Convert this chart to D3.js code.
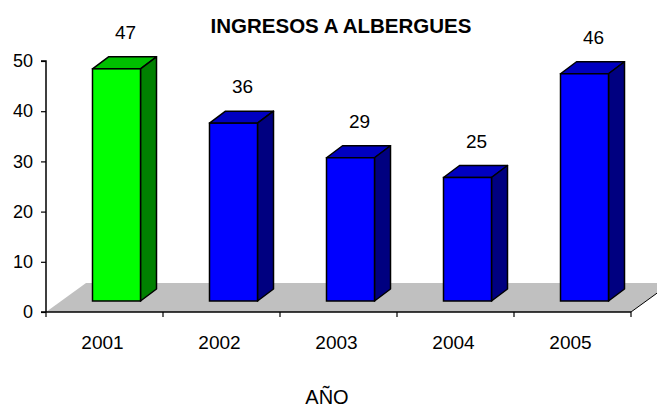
<!DOCTYPE html>
<html><head><meta charset="utf-8">
<script src="https://cdn.jsdelivr.net/npm/d3@7"></script>
<style>html,body{margin:0;padding:0;background:#fff;}svg{display:block;}</style>
</head><body>
<script>
const title = "INGRESOS A ALBERGUES";
const xTitle = "AÑO";
const categories = ["2001","2002","2003","2004","2005"];
const values = [47, 36, 29, 25, 46];
const yTicks = [0,10,20,30,40,50];
const highlight = ["2001"];

const W = 657, H = 407;
const plotL = 46, plotR = 631, plotT = 61, plotB = 312;
const floorDx = 40, floorDy = -29;      // floor depth
const frontDx = 15, frontDy = -11;      // bar front plane offset
const sideDx = 16, sideDy = -12;        // bar depth

const svg = d3.select("body").append("svg").attr("width", W).attr("height", H);
const font = "'Liberation Sans', Arial, sans-serif";

const x = d3.scaleBand().domain(categories).range([plotL, plotR]);
const y = d3.scaleLinear().domain([0, 50]).range([plotB, plotT]);
const yBar = d3.scaleLinear().domain([0, 50]).range([plotB + frontDy, plotB + frontDy - 247]);
const barW = 48;

// floor
svg.append("path")
  .attr("d", `M${plotL},${plotB}L${plotR},${plotB}L${plotR+floorDx},${plotB+floorDy}L${plotL+floorDx},${plotB+floorDy}Z`)
  .attr("fill", "#c0c0c0");
svg.append("line").attr("x1", plotR).attr("y1", plotB).attr("x2", plotR+floorDx).attr("y2", plotB+floorDy)
  .attr("stroke", "#000").attr("stroke-width", 1);

// axes
const yAxis = d3.axisLeft(y).tickValues(yTicks).tickSize(5).tickPadding(8);
const gy = svg.append("g").attr("transform", `translate(${plotL},0)`).call(yAxis);
gy.select(".domain").attr("stroke", "#000").attr("stroke-width", 1.5).attr("d", `M-5,${plotT}H0V${plotB}`);
gy.selectAll("line").attr("stroke", "#000").attr("stroke-width", 1.2);
gy.selectAll("text").attr("font-family", font).attr("font-size", 18).attr("fill", "#000");

svg.append("line").attr("x1", plotL - 5).attr("x2", plotR).attr("y1", plotB).attr("y2", plotB)
  .attr("stroke", "#000").attr("stroke-width", 1.5);
svg.selectAll(".xtick").data(categories.concat(["_end"])).enter().append("line")
  .attr("x1", (d, i) => plotL + i * x.bandwidth()).attr("x2", (d, i) => plotL + i * x.bandwidth())
  .attr("y1", plotB).attr("y2", plotB + 5).attr("stroke", "#000").attr("stroke-width", 1.2);

svg.selectAll(".xlab").data(categories).enter().append("text")
  .attr("x", d => x(d) + x.bandwidth() / 2 - 2).attr("y", 349)
  .attr("text-anchor", "middle").attr("font-family", font).attr("font-size", 19).text(d => d);

// bars
const data = categories.map((c, i) => ({c, v: values[i]}));
const g = svg.append("g");
data.forEach(d => {
  const hi = highlight.includes(d.c);
  const cf = hi ? "#00ff00" : "#0000ff";
  const cs = hi ? "#008000" : "#000080";
  const ct = hi ? "#00c000" : "#0000c0";
  const x0 = x(d.c) + (x.bandwidth() - barW) / 2 - 3 + frontDx;
  const x1 = x0 + barW;
  const yb = yBar(0), yt = yBar(d.v);
  g.append("path").attr("d", `M${x0},${yt}L${x1},${yt}L${x1+sideDx},${yt+sideDy}L${x0+sideDx},${yt+sideDy}Z`)
    .attr("fill", ct).attr("stroke", "#000").attr("stroke-width", 1.5).attr("stroke-linejoin", "round");
  g.append("path").attr("d", `M${x1},${yt}L${x1+sideDx},${yt+sideDy}L${x1+sideDx},${yb+sideDy}L${x1},${yb}Z`)
    .attr("fill", cs).attr("stroke", "#000").attr("stroke-width", 1.5).attr("stroke-linejoin", "round");
  g.append("rect").attr("x", x0).attr("y", yt).attr("width", barW).attr("height", yb - yt)
    .attr("fill", cf).attr("stroke", "#000").attr("stroke-width", 1.5);
  g.append("text").attr("x", x0 + (barW + sideDx) / 2 + 1).attr("y", yt + sideDy - 18)
    .attr("text-anchor", "middle").attr("font-family", font).attr("font-size", 19).text(d.v);
});

svg.append("text").attr("x", 341).attr("y", 33).attr("text-anchor", "middle")
  .attr("font-family", font).attr("font-weight", "bold").attr("font-size", 20.5).text(title);
svg.append("text").attr("x", 327).attr("y", 404).attr("text-anchor", "middle")
  .attr("font-family", font).attr("font-size", 20).text(xTitle);
</script>
</body></html>
